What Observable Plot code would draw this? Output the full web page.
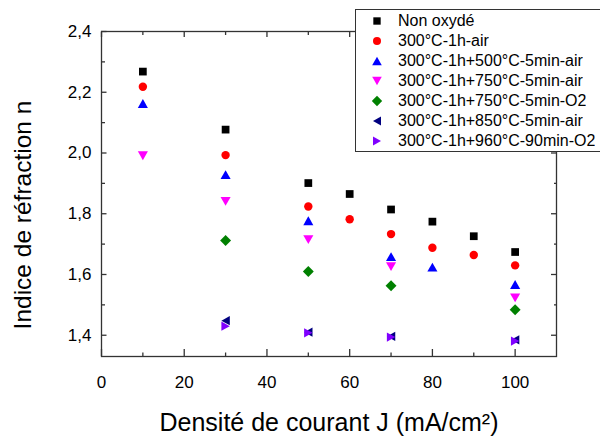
<!DOCTYPE html>
<html>
<head>
<meta charset="utf-8">
<script src="https://cdn.jsdelivr.net/npm/d3@7"></script>
<script src="https://cdn.jsdelivr.net/npm/@observablehq/plot@0.6"></script>
<style>
  html, body { margin: 0; padding: 0; background: white; }
  #wrap { position: relative; width: 600px; height: 437px; font-family: "Liberation Sans", Arial, sans-serif; }
  #wrap svg { display: block; }
  #legend { position: absolute; left: 355px; top: 9px; width: 243px; height: 140px; background: white; border: 1px solid #333; box-sizing: content-box; padding: 1px 0 0 13px; overflow: hidden; }
  #legend .leg-swatches { margin: 0 !important; font-family: "Liberation Sans", Arial, sans-serif !important; font-size: 16px !important; color: black !important; columns: 1 !important; }
  #legend .leg-swatch { height: 20px !important; padding: 0 !important; display: flex !important; align-items: center !important; white-space: nowrap; }
  #legend .leg-swatch svg { margin-right: 13px !important; flex-shrink: 0; }
</style>
</head>
<body>
<div id="wrap"></div>
<script>
// ---- data ----
const seriesNames = [
  "Non oxydé",
  "300°C-1h-air",
  "300°C-1h+500°C-5min-air",
  "300°C-1h+750°C-5min-air",
  "300°C-1h+750°C-5min-O2",
  "300°C-1h+850°C-5min-air",
  "300°C-1h+960°C-90min-O2"
];
const seriesColors = ["#000000", "#ff0000", "#0000ff", "#ff00ff", "#008000", "#000080", "#8000ff"];

const J_nonOxyde = [10, 30, 50, 60, 70, 80, 90, 100];
const n_nonOxyde = [2.268, 2.077, 1.901, 1.865, 1.814, 1.774, 1.726, 1.674];
const J_air300 = [10, 30, 50, 60, 70, 80, 90, 100];
const n_air300 = [2.218, 1.993, 1.824, 1.782, 1.733, 1.688, 1.664, 1.630];
const J_500air = [10, 30, 50, 70, 80, 100];
const n_500air = [2.163, 1.929, 1.777, 1.659, 1.624, 1.567];
const J_750air = [10, 30, 50, 70, 100];
const n_750air = [1.991, 1.841, 1.715, 1.626, 1.523];
const J_750O2 = [30, 50, 70, 100];
const n_750O2 = [1.712, 1.610, 1.563, 1.484];
const J_850air = [30, 50, 70, 100];
const n_850air = [1.448, 1.410, 1.396, 1.385];
const J_960O2 = [30, 50, 70, 100];
const n_960O2 = [1.430, 1.408, 1.394, 1.381];

const xMajorTicks = [0, 20, 40, 60, 80, 100];
const xMinorTicks = [10, 30, 50, 70, 90];
const yMajorTicks = [1.4, 1.6, 1.8, 2.0, 2.2, 2.4];
const yMinorTicks = [1.5, 1.7, 1.9, 2.1, 2.3];

const xTitle = "Densité de courant J (mA/cm²)";
const yTitle = "Indice de réfraction n";

// ---- build table ----
const allJ = [J_nonOxyde, J_air300, J_500air, J_750air, J_750O2, J_850air, J_960O2];
const allN = [n_nonOxyde, n_air300, n_500air, n_750air, n_750O2, n_850air, n_960O2];
const data = [];
seriesNames.forEach((s, k) => allJ[k].forEach((j, i) => data.push({series: s, J: j, n: allN[k][i]})));

// ---- custom marker shapes ----
const sym = f => ({draw(ctx, size) { const r = Math.sqrt(size / Math.PI); f(ctx, r); }});
const square = sym((c, r) => { const s = r * 0.92; c.moveTo(-s, -s); c.lineTo(s, -s); c.lineTo(s, s); c.lineTo(-s, s); c.closePath(); });
const circle = sym((c, r) => { c.moveTo(r, 0); c.arc(0, 0, r, 0, 2 * Math.PI); });
const triUp = sym((c, r) => { const w = r * 1.2, h = r * 1.05; c.moveTo(0, -h); c.lineTo(w, h); c.lineTo(-w, h); c.closePath(); });
const triDown = sym((c, r) => { const w = r * 1.2, h = r * 1.05; c.moveTo(0, h); c.lineTo(w, -h); c.lineTo(-w, -h); c.closePath(); });
const diamond = sym((c, r) => { const d = r * 1.3; c.moveTo(0, -d); c.lineTo(d, 0); c.lineTo(0, d); c.lineTo(-d, 0); c.closePath(); });
const triLeft = sym((c, r) => { const w = r * 1.0, h = r * 1.1; c.moveTo(-w, 0); c.lineTo(w, -h); c.lineTo(w, h); c.closePath(); });
const triRight = sym((c, r) => { const w = r * 1.0, h = r * 1.1; c.moveTo(w, 0); c.lineTo(-w, -h); c.lineTo(-w, h); c.closePath(); });
const seriesSymbols = [square, circle, triUp, triDown, diamond, triLeft, triRight];

const fmt = d => d.toFixed(1).replace(".", ",");
const axisColor = "#333";

const chart = Plot.plot({
  width: 600,
  height: 437,
  marginLeft: 101,
  marginRight: 44,
  marginTop: 31,
  marginBottom: 81,
  style: {fontFamily: '"Liberation Sans", Arial, sans-serif', background: "white", color: "black", overflow: "visible"},
  x: {domain: [0, 110]},
  y: {domain: [1.33, 2.4]},
  color: {domain: seriesNames, range: seriesColors},
  symbol: {domain: seriesNames, range: seriesSymbols},
  marks: [
    Plot.frame({stroke: axisColor, strokeWidth: 1.3}),
    // bottom ticks (inward)
    Plot.axisX({anchor: "bottom", ticks: xMajorTicks, tickSize: -7, fill: "none", stroke: axisColor, strokeWidth: 1.3, label: null}),
    Plot.axisX({anchor: "bottom", ticks: xMinorTicks, tickSize: -3.5, fill: "none", stroke: axisColor, strokeWidth: 1.3, label: null}),
    Plot.axisX({anchor: "bottom", ticks: xMajorTicks, tickSize: 0, tickPadding: 19, fontSize: 17, stroke: "none", label: null}),
    // top ticks (inward)
    Plot.axisX({anchor: "top", ticks: xMajorTicks, tickSize: -5, fill: "none", stroke: axisColor, strokeWidth: 1.3, label: null}),
    Plot.axisX({anchor: "top", ticks: xMinorTicks, tickSize: -3, fill: "none", stroke: axisColor, strokeWidth: 1.3, label: null}),
    // left ticks (inward)
    Plot.axisY({anchor: "left", ticks: yMajorTicks, tickSize: -5.5, fill: "none", stroke: axisColor, strokeWidth: 1.3, label: null}),
    Plot.axisY({anchor: "left", ticks: yMinorTicks, tickSize: -4, fill: "none", stroke: axisColor, strokeWidth: 1.3, label: null}),
    Plot.axisY({anchor: "left", ticks: yMajorTicks, tickSize: 0, tickPadding: 10, fontSize: 17, stroke: "none", tickFormat: fmt, label: null}),
    // right ticks (inward)
    Plot.axisY({anchor: "right", ticks: yMajorTicks, tickSize: -6, fill: "none", stroke: axisColor, strokeWidth: 1.3, label: null}),
    Plot.axisY({anchor: "right", ticks: yMinorTicks, tickSize: -3, fill: "none", stroke: axisColor, strokeWidth: 1.3, label: null}),
    // axis titles
    Plot.text([xTitle], {text: d => d, frameAnchor: "bottom", dy: 66, fontSize: 25, lineAnchor: "middle", textAnchor: "middle", fill: "black"}),
    Plot.text([yTitle], {text: d => d, frameAnchor: "left", rotate: -90, dx: -78, dy: 21, fontSize: 24.5, lineAnchor: "middle", textAnchor: "middle", fill: "black"}),
    // data points
    Plot.dot(data, {x: "J", y: "n", fill: "series", symbol: "series", r: 4.2, stroke: "none"})
  ]
});

const wrap = document.getElementById("wrap");
wrap.appendChild(chart);

const legendBox = document.createElement("div");
legendBox.id = "legend";
const leg = chart.legend("symbol", {className: "leg", columns: 1, swatchSize: 16, fill: "color", stroke: "none", r: 4});
if (leg) legendBox.appendChild(leg);
wrap.appendChild(legendBox);
</script>
</body>
</html>
